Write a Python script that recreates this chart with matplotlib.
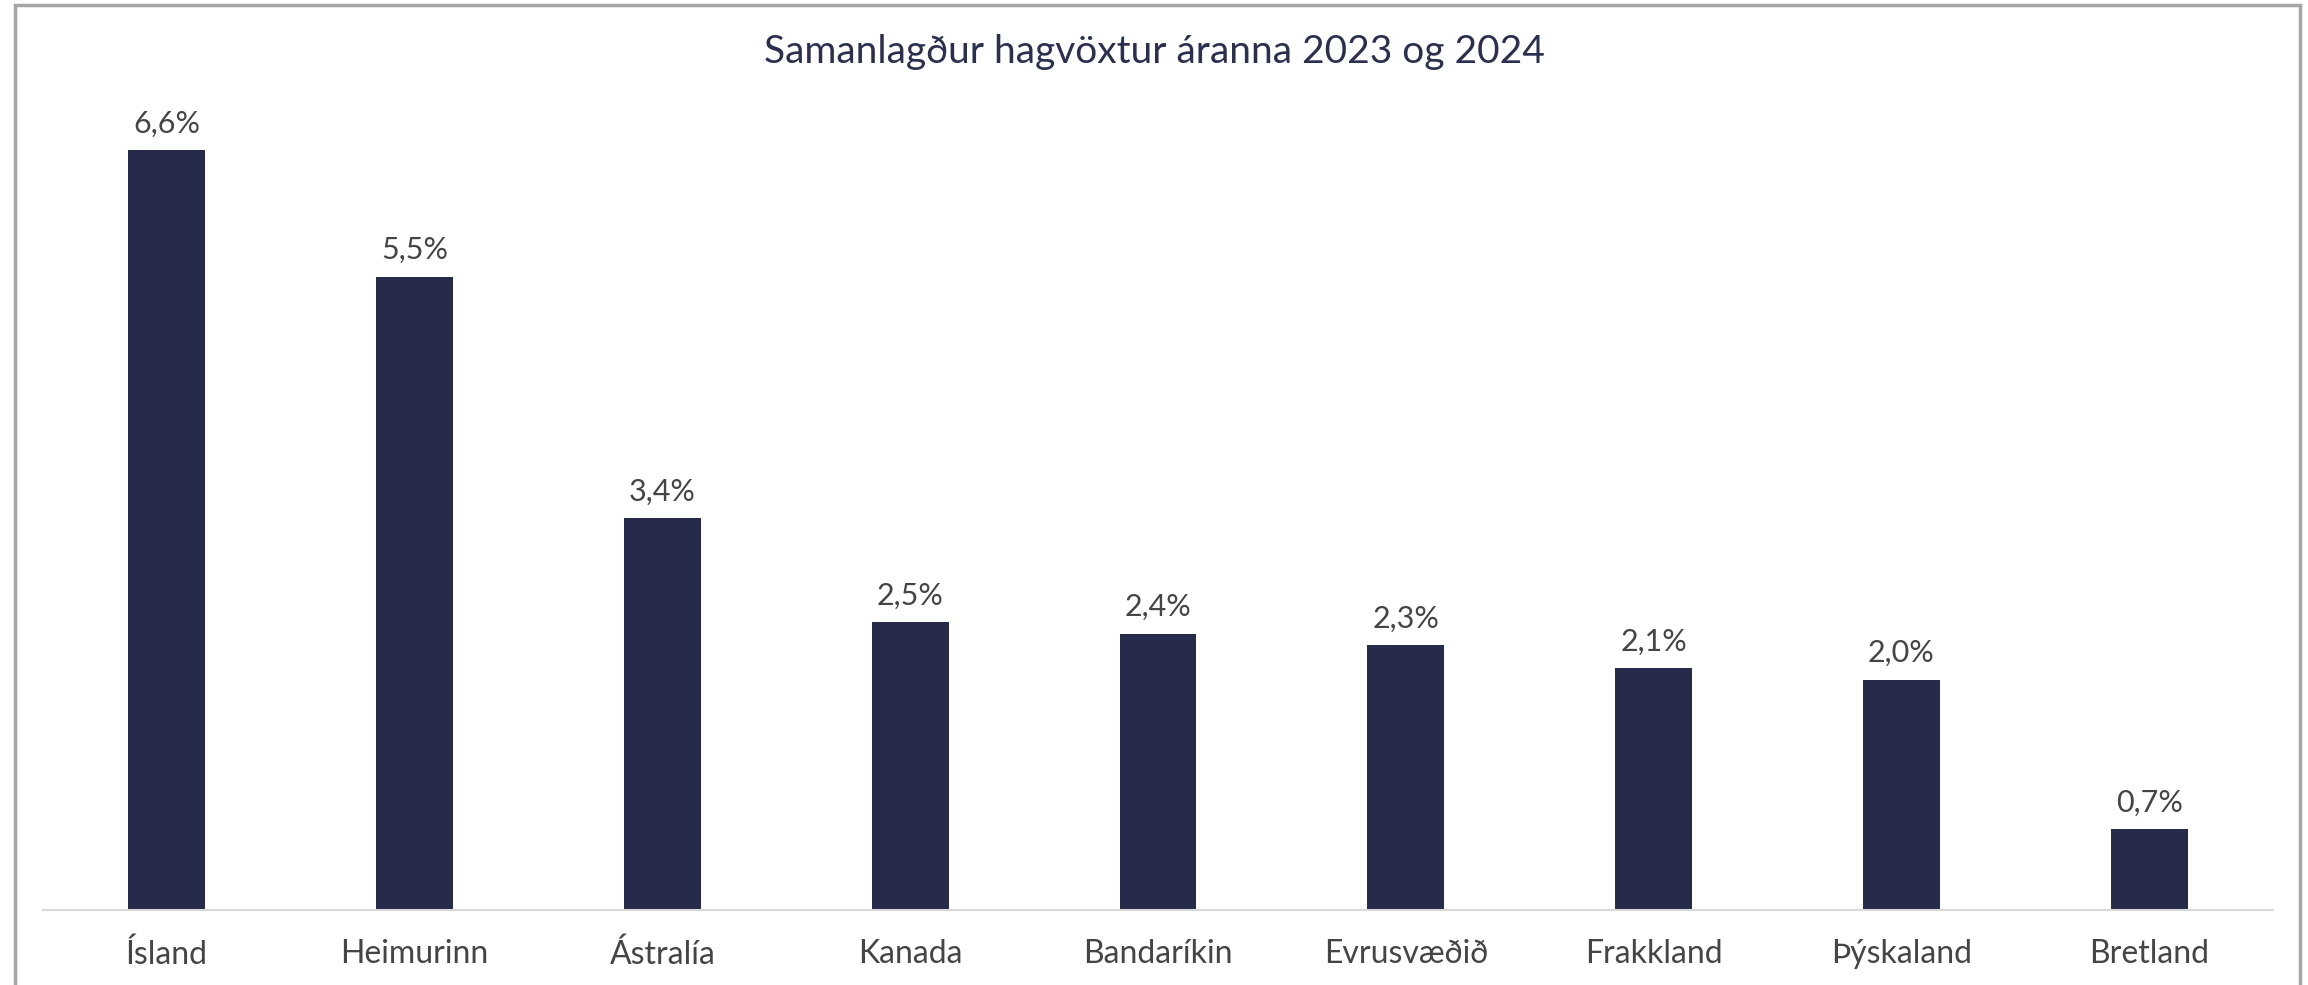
"""Combined GDP growth 2023-2024 bar chart."""

import matplotlib.pyplot as plt
from matplotlib.patches import Rectangle

countries = ["Ísland", "Heimurinn", "Ástralía", "Kanada", "Bandaríkin",
             "Evrusvæðið", "Frakkland", "Þýskaland", "Bretland"]
growth = [6.6, 5.5, 3.4, 2.5, 2.4, 2.3, 2.1, 2.0, 0.7]
title = "Samanlagður hagvöxtur áranna 2023 og 2024"

W, H = 2308, 985
BAR_COLOR = "#262b4b"
TEXT_COLOR = "#454545"

plt.rcParams["font.family"] = ["Lato", "DejaVu Sans"]

fig = plt.figure(figsize=(W / 100, H / 100), dpi=100)
# axes placed in pixel terms: x 43..2273, baseline at y=910
left, right, bottom, top = 43, 2273, 910, 90
ax = fig.add_axes([left / W, 1 - bottom / H, (right - left) / W, (bottom - top) / H])

x = range(len(countries))
ax.bar(x, growth, width=0.31, color=BAR_COLOR, zorder=2)
ax.set_xlim(-0.5, len(countries) - 0.5)
ax.set_ylim(0, 6.6 * (bottom - top) / (bottom - 150))

for xi, v in zip(x, growth):
    ax.annotate(f"{v:.1f}%".replace(".", ","), (xi, v), xytext=(0, 9),
                textcoords="offset points", ha="center", va="bottom",
                fontsize=22, color=TEXT_COLOR)

ax.set_xticks(list(x))
ax.set_xticklabels(countries, fontsize=23, color=TEXT_COLOR)
ax.tick_params(axis="x", length=0, pad=21)
ax.set_yticks([])
for side in ["left", "right", "top"]:
    ax.spines[side].set_visible(False)
ax.spines["bottom"].set_color("#d9d9d9")
ax.spines["bottom"].set_linewidth(1.5)

fig.text(0.5, 1 - 52 / H, title, ha="center", va="center",
         fontsize=28, color="#2b3050")

# light gray frame around the chart, bottom edge off-canvas
fig.patches.append(Rectangle((15 / W, -0.05), (2300 - 15) / W, 1.05 - 5 / H,
                             transform=fig.transFigure, fill=False,
                             edgecolor="#a6a6a6", linewidth=2.5))

fig.savefig("out.png", dpi=100)
